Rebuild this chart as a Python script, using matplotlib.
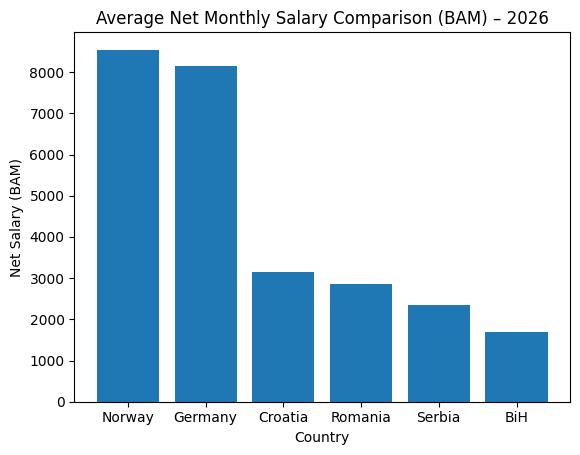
import matplotlib.pyplot as plt

# data
countries = ['Norway', 'Germany', 'Croatia', 'Romania', 'Serbia', 'BiH']
salaries = [8540, 8140, 3150, 2850, 2345, 1700]

fig = plt.figure(figsize=(5.8, 4.55), dpi=100)
ax = fig.add_axes([0.128, 0.117, 0.855, 0.812])
ax.bar(countries, salaries, color='#1f77b4')
ax.set_title('Average Net Monthly Salary Comparison (BAM) \u2013 2026')
ax.set_xlabel('Country')
ax.set_ylabel('Net Salary (BAM)')

fig.savefig('out.png', dpi=100)
